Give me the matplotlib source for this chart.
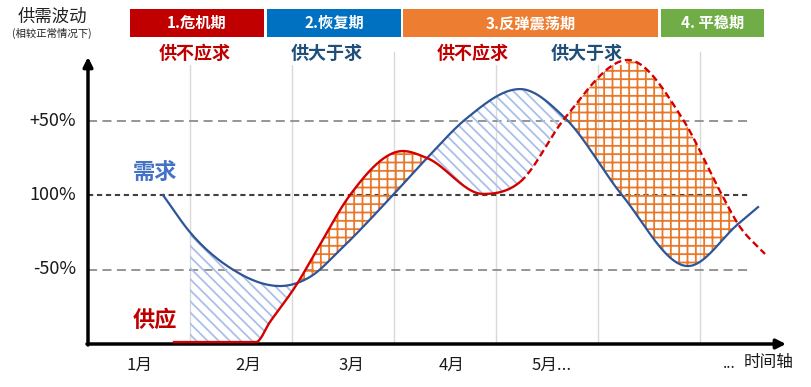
import numpy as np
import matplotlib.pyplot as plt
from matplotlib.patches import Rectangle

plt.rcParams['font.family'] = ['Noto Sans CJK SC', 'DejaVu Sans']
plt.rcParams['hatch.linewidth'] = 1.3

# 需求曲线：横轴为月份，纵轴为相对正常水平(%)
demand_x = [1.235, 1.50, 1.912, 2.382, 2.676, 2.99, 3.49, 3.824, 4.216,
            4.735, 5.176, 5.735, 6.382, 6.873, 7.069]
demand_y = [100, 75, 50.3, 38.9, 45, 64.4, 100, 124.8, 151.7,
            171.1, 151.7, 100, 52.3, 80.5, 91.9]

# 供应曲线（4.735 之后为虚线预测部分）
supply_x = [1.343, 2.147, 2.284, 2.549, 2.755, 3.069, 3.588, 3.824,
            4.373, 4.735, 5.176, 5.794, 6.324, 6.716, 6.873, 7.137]
supply_y = [1.3, 1.3, 14.8, 40.3, 64.4, 100, 129.5, 124.8,
            100.7, 108.7, 151.7, 190.6, 151.7, 100, 80.5, 60.4]
supply_split = 4.735

months = ['1月', '2月', '3月', '4月', '5月...']
month_pos = [1.0, 2.07, 3.08, 4.06, 5.05]

levels = [150, 100, 50]
level_labels = ['+50%', '100%', '-50%']

phases = ['1.危机期', '2.恢复期', '3.反弹震荡期', '4. 平稳期']
phase_colors = ['#C00000', '#0070C0', '#ED7D31', '#70AD47']
phase_edges = [(130, 264), (267, 401), (403, 658), (661, 764)]

notes = ['供不应求', '供大于求', '供不应求', '供大于求']
note_colors = ['#C00000', '#1F4E79', '#C00000', '#1F4E79']
note_px = [195, 327, 473, 587]

grid_pos = [1.5, 2.5, 3.5, 4.5, 5.5, 6.5]
shade_from, shade_to = 1.5, 6.873


# 像素 -> 数据坐标（只用于排版）
def mx(px):
    return 1 + (px - 139) / 102.0


def vy(py):
    return (344 - py) / 1.49


# 三次 Hermite 平滑，极值点处切线为 0
def smooth(x, y, xf):
    x = np.asarray(x, float)
    y = np.asarray(y, float)
    h = np.diff(x)
    d = np.diff(y) / h
    m = np.zeros_like(y)
    for i in range(1, len(x) - 1):
        if d[i - 1] * d[i] > 0:
            m[i] = (h[i] * d[i - 1] + h[i - 1] * d[i]) / (h[i - 1] + h[i])
    m[0] = d[0]
    m[-1] = d[-1]
    idx = np.clip(np.searchsorted(x, xf) - 1, 0, len(h) - 1)
    t = (xf - x[idx]) / h[idx]
    h00 = 2 * t**3 - 3 * t**2 + 1
    h10 = t**3 - 2 * t**2 + t
    h01 = -2 * t**3 + 3 * t**2
    h11 = t**3 - t**2
    return (h00 * y[idx] + h10 * h[idx] * m[idx]
            + h01 * y[idx + 1] + h11 * h[idx] * m[idx + 1])


fig = plt.figure(figsize=(8.11, 3.87), dpi=100)
ax = fig.add_axes([0, 0, 1, 1])
ax.set_xlim(mx(0), mx(811))
ax.set_ylim(vy(387), vy(0))
ax.axis('off')

# 竖向网格线
for g in grid_pos:
    ax.plot([g, g], [0, vy(52)], color='#D9D9D9', lw=1, zorder=1)

# 水平参考线
x_end = mx(748)
for lv in levels:
    if lv == 100:
        ax.plot([mx(88), x_end], [lv, lv], color='#404040', lw=1.5,
                ls=(0, (2.5, 1.8)), zorder=2)
    else:
        ax.plot([mx(88), x_end], [lv, lv], color='#8C8C8C', lw=1.3,
                ls=(0, (5, 3)), zorder=2)
for lv, lab in zip(levels, level_labels):
    ax.text(mx(76), lv, lab, ha='right', va='center', fontsize=13, color='#1A1A1A')

# 曲线
xd = np.linspace(demand_x[0], demand_x[-1], 800)
yd = smooth(demand_x, demand_y, xd)
xs = np.linspace(supply_x[0], supply_x[-1], 800)
ys = smooth(supply_x, supply_y, xs)

# 阴影区域
xc = np.linspace(shade_from, shade_to, 1500)
dc = smooth(demand_x, demand_y, xc)
sc = smooth(supply_x, supply_y, xc)
ax.fill_between(xc, sc, dc, where=dc >= sc, interpolate=True, facecolor='none',
                edgecolor='#A9C0E8', hatch='\\\\\\', linewidth=0, zorder=3)
ax.fill_between(xc, dc, sc, where=sc >= dc, interpolate=True, facecolor='none',
                edgecolor='#E8782A', hatch='++', linewidth=0, zorder=3)

ax.plot(xd, yd, color='#2F5597', lw=1.6, zorder=5)
solid = xs <= supply_split
ax.plot(xs[solid], ys[solid], color='#D40000', lw=1.7, zorder=6)
ax.plot(xs[~solid], ys[~solid], color='#D40000', lw=1.7, ls=(0, (3, 1.6)), zorder=6)

# 坐标轴箭头
ax.annotate('', xy=(mx(88), vy(57)), xytext=(mx(88), vy(345)),
            arrowprops=dict(arrowstyle='-|>', color='black', lw=2.5,
                            mutation_scale=14, shrinkA=0, shrinkB=0), zorder=7)
ax.annotate('', xy=(mx(786), 0), xytext=(mx(87), 0),
            arrowprops=dict(arrowstyle='-|>', color='black', lw=2.5,
                            mutation_scale=14, shrinkA=0, shrinkB=0), zorder=4)

for p, lab in zip(month_pos, months):
    ax.text(p, vy(365), lab, ha='center', va='center', fontsize=12, color='#1A1A1A')
ax.text(mx(729), vy(363), '...', ha='center', va='center', fontsize=11, color='#1A1A1A')
ax.text(mx(769), vy(363), '时间轴', ha='center', va='center', fontsize=12, color='#1A1A1A')

# 阶段色块
for name, c, (a, b) in zip(phases, phase_colors, phase_edges):
    ax.add_patch(Rectangle((mx(a), vy(37)), mx(b) - mx(a), vy(9) - vy(37),
                           facecolor=c, edgecolor='none', zorder=4))
    ax.text(mx((a + b) / 2), vy(23), name, ha='center', va='center', fontsize=11,
            fontweight='bold', color='white', zorder=5)

for t, c, p in zip(notes, note_colors, note_px):
    ax.text(mx(p), vy(53), t, ha='center', va='center', fontsize=13,
            fontweight='bold', color=c, zorder=4,
            bbox=dict(facecolor='white', edgecolor='none', pad=2))

ax.text(mx(155), vy(172), '需求', ha='center', va='center', fontsize=16,
        fontweight='bold', color='#4472C4')
ax.text(mx(155), vy(320), '供应', ha='center', va='center', fontsize=16,
        fontweight='bold', color='#C00000')

ax.text(mx(52), vy(17), '供需波动', ha='center', va='center', fontsize=12.5, color='#222222')
ax.text(mx(52), vy(33), '(相较正常情况下)', ha='center', va='center', fontsize=7.5,
        color='#222222')

plt.savefig('out.png', dpi=100)
